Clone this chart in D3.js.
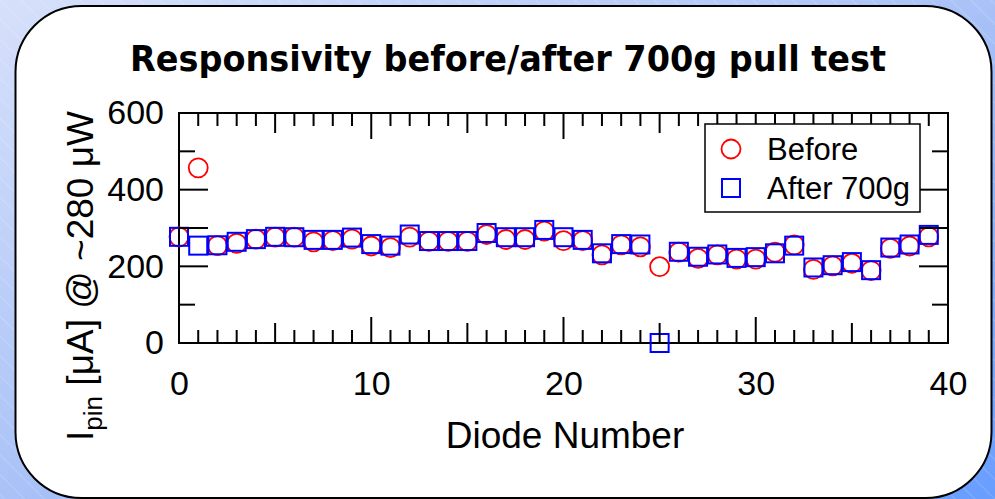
<!DOCTYPE html>
<html><head><meta charset="utf-8">
<script src="https://cdn.jsdelivr.net/npm/d3@7"></script>
<style>html,body{margin:0;padding:0;background:#fff;}svg{display:block;}</style>
</head><body>
<script>
// ---- data ----
const diodes = d3.range(0, 40);
const before = [277,457,254,260,271,276,276,264,267,271,253,249,276,265,265,265,283,270,270,292,267,267,230,256,251,199,237,221,230,219,219,237,256,192,201,208,189,247,253,277];
const after  = [277,254,255,264,271,277,276,269,269,275,258,254,283,266,266,266,287,276,276,295,276,269,234,258,257,0,238,225,231,222,224,234,254,197,203,211,190,249,257,282];
const xTicks = d3.range(0, 41, 1);
const xLabels = [0,10,20,30,40];
const yTicks = [100,200,300,400,500];
const yLabels = [0,200,400,600];
const seriesNames = ["Before","After 700g"];
const title = "Responsivity before/after 700g pull test";

const W = 995, H = 499;
const svg = d3.select("body").append("svg").attr("width", W).attr("height", H);
const defs = svg.append("defs");
const grad = defs.append("linearGradient").attr("id","bg").attr("x1","0").attr("y1","0").attr("x2","1").attr("y2","1");
grad.append("stop").attr("offset","0%").attr("stop-color","#d6e0fa");
grad.append("stop").attr("offset","50%").attr("stop-color","#a9c2f7");
grad.append("stop").attr("offset","100%").attr("stop-color","#689dff");
const pat = defs.append("pattern").attr("id","lines").attr("patternUnits","userSpaceOnUse")
  .attr("width",14).attr("height",14).attr("patternTransform","rotate(-45)");
pat.append("line").attr("x1",0).attr("y1",0).attr("x2",0).attr("y2",14)
  .attr("stroke","#ffffff").attr("stroke-opacity",0.35).attr("stroke-width",1);

svg.append("rect").attr("width",W).attr("height",H).attr("fill","url(#bg)");
svg.append("rect").attr("width",W).attr("height",H).attr("fill","url(#lines)");

svg.append("rect").attr("x",15.5).attr("y",6).attr("width",976).attr("height",492)
  .attr("rx",66).attr("ry",66).attr("fill","#fff").attr("stroke","#000").attr("stroke-width",2);

// title
svg.append("text").attr("x",508).attr("y",71).attr("text-anchor","middle")
  .attr("font-family","'DejaVu Sans', Verdana, sans-serif").attr("font-weight","bold")
  .attr("font-size",36).attr("textLength",756).attr("lengthAdjust","spacingAndGlyphs")
  .text(title);

// scales
const x = d3.scaleLinear().domain([0,40]).range([179,948]);
const y = d3.scaleLinear().domain([0,600]).range([343,113]);
const font = "'Liberation Sans', Arial, sans-serif";

const g = svg.append("g");

// frame
g.append("rect").attr("x",x(0)).attr("y",y(600)).attr("width",x(40)-x(0)).attr("height",y(0)-y(600))
  .attr("fill","none").attr("stroke","#000").attr("stroke-width",2);

// x labels
g.append("g").attr("transform",`translate(0,${y(0)})`)
  .call(d3.axisBottom(x).tickValues(xLabels).tickSize(0).tickPadding(28).tickFormat(d3.format("d")))
  .call(a => a.select(".domain").remove())
  .selectAll("text").attr("font-family",font).attr("font-size",34).attr("fill","#000");
// y labels
g.append("g").attr("transform",`translate(${x(0)},0)`)
  .call(d3.axisLeft(y).tickValues(yLabels).tickSize(0).tickPadding(15).tickFormat(d3.format("d")))
  .call(a => a.select(".domain").remove())
  .selectAll("text").attr("font-family",font).attr("font-size",34).attr("fill","#000");

// markers
svg.append("g").selectAll("circle").data(diodes).join("circle")
  .attr("cx", i => x(i)).attr("cy", i => y(before[i])).attr("r",9.5)
  .attr("fill","none").attr("stroke","#ff0000").attr("stroke-width",1.8);
svg.append("g").selectAll("rect").data(diodes).join("rect")
  .attr("x", i => x(i)-9).attr("y", i => y(after[i])-9).attr("width",18).attr("height",18)
  .attr("fill","none").attr("stroke","#0000ff").attr("stroke-width",2);

// tick marks (inward on all four sides)
const xLen = v => v % 10 === 0 ? 26 : (v % 5 === 0 ? 20 : 13);
const yLen = v => (v === 100 || v === 500) ? 16 : 29;
const ticksG = svg.append("g").attr("stroke","#000").attr("stroke-width",2);
ticksG.selectAll("line.bot").data(xTicks).join("line").attr("class","bot")
  .attr("x1", v => x(v)).attr("x2", v => x(v))
  .attr("y1", y(0)).attr("y2", v => y(0) - xLen(v));
ticksG.selectAll("line.top").data(xTicks).join("line").attr("class","top")
  .attr("x1", v => x(v)).attr("x2", v => x(v))
  .attr("y1", y(600)).attr("y2", v => y(600) + xLen(v));
ticksG.selectAll("line.lft").data(yTicks).join("line").attr("class","lft")
  .attr("y1", v => y(v)).attr("y2", v => y(v))
  .attr("x1", x(0)).attr("x2", v => x(0) + yLen(v));
ticksG.selectAll("line.rgt").data(yTicks).join("line").attr("class","rgt")
  .attr("y1", v => y(v)).attr("y2", v => y(v))
  .attr("x1", x(40)).attr("x2", v => x(40) - yLen(v));

// legend
const lg = svg.append("g");
lg.append("rect").attr("x",705).attr("y",124).attr("width",215).attr("height",88)
  .attr("fill","#fff").attr("stroke","#000").attr("stroke-width",1.5);
lg.append("circle").attr("cx",731).attr("cy",149).attr("r",9.5)
  .attr("fill","none").attr("stroke","#ff0000").attr("stroke-width",1.8);
lg.append("rect").attr("x",722).attr("y",179).attr("width",18).attr("height",18)
  .attr("fill","none").attr("stroke","#0000ff").attr("stroke-width",2);
lg.selectAll("text").data(seriesNames).join("text")
  .attr("x",767).attr("y",(d,i)=>160+i*39)
  .attr("font-family",font).attr("font-size",31).attr("fill","#000").text(d=>d);

// axis titles
svg.append("text").attr("x",565).attr("y",448).attr("text-anchor","middle")
  .attr("font-family",font).attr("font-size",37).text("Diode Number");
const yl = svg.append("text").attr("transform","translate(93,276) rotate(-90)")
  .attr("text-anchor","middle").attr("font-family",font).attr("font-size",37);
yl.append("tspan").text("I");
yl.append("tspan").attr("font-size",26).attr("dy",9).text("pin");
yl.append("tspan").attr("dy",-9).text(" [μA] @ ~280 μW");
</script>
</body></html>
